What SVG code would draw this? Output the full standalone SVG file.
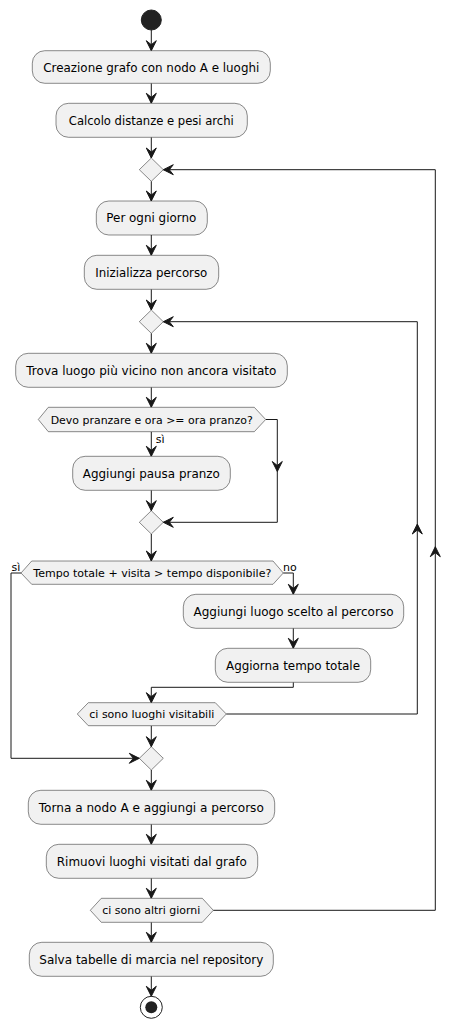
<svg xmlns="http://www.w3.org/2000/svg" width="460" height="1028" viewBox="0 0 460 1028">
<style>
.box{fill:#F1F1F1;stroke:#181818;stroke-width:0.5}
.t{font-family:"DejaVu Sans","Liberation Sans",sans-serif;font-size:12px;fill:#000;text-anchor:middle}
.s{font-family:"DejaVu Sans","Liberation Sans",sans-serif;font-size:11px;fill:#000}
.ln{fill:none;stroke:#181818;stroke-width:1}
.ah{fill:#181818;stroke:#181818;stroke-width:1}
</style>
<defs>
<polygon id="ad" points="-5,-10 0,0 5,-10 0,-6"/>
</defs>
<rect width="460" height="1028" fill="#FFFFFF"/>
<g id="connectors">
<path class="ln" d="M151.3,30 V50.7 M151.3,83.3 V103.3 M151.3,137.3 V158 M151.3,181.3 V201 M151.3,235 V255.3 M151.3,289.3 V310 M151.3,333.3 V353.3 M151.3,387.3 V407.3 M151.3,431.7 V456.3 M151.3,490.3 V510.7 M151.3,534 V561 M151.3,725.7 V746.7 M151.3,770 V790.3 M151.3,824.3 V844.3 M151.3,878.3 V898.3 M151.3,922.3 V942.3 M151.3,976.3 V996.3"/>
<path class="ln" d="M265.7,419.5 H277.3 V522.3 H163.3"/>
<path class="ln" d="M21,573 H11 V758.3 H139.3"/>
<path class="ln" d="M283.3,573 H293.3 V594.3 M293.3,628.3 V648.3 M293.3,682.3 V687.3 H151.3 V702.7"/>
<path class="ln" d="M226.3,714 H417.3 V321.7 H163.3"/>
<path class="ln" d="M213.3,910.3 H435.3 V169.7 H163.3"/>
<g class="ah">
<use href="#ad" transform="translate(151.3,50.7)"/>
<use href="#ad" transform="translate(151.3,103.3)"/>
<use href="#ad" transform="translate(151.3,158)"/>
<use href="#ad" transform="translate(151.3,201)"/>
<use href="#ad" transform="translate(151.3,255.3)"/>
<use href="#ad" transform="translate(151.3,310)"/>
<use href="#ad" transform="translate(151.3,353.3)"/>
<use href="#ad" transform="translate(151.3,407.3)"/>
<use href="#ad" transform="translate(151.3,456.3)"/>
<use href="#ad" transform="translate(151.3,510.7)"/>
<use href="#ad" transform="translate(151.3,561)"/>
<use href="#ad" transform="translate(151.3,746.7)"/>
<use href="#ad" transform="translate(151.3,790.3)"/>
<use href="#ad" transform="translate(151.3,844.3)"/>
<use href="#ad" transform="translate(151.3,898.3)"/>
<use href="#ad" transform="translate(151.3,942.3)"/>
<use href="#ad" transform="translate(151.3,996.3)"/>
<use href="#ad" transform="translate(277.3,471.5)"/>
<use href="#ad" transform="translate(163.3,522.3) rotate(90)"/>
<use href="#ad" transform="translate(139.3,758.3) rotate(-90)"/>
<use href="#ad" transform="translate(293.3,594.3)"/>
<use href="#ad" transform="translate(293.3,648.3)"/>
<use href="#ad" transform="translate(151.3,702.7)"/>
<use href="#ad" transform="translate(417.3,524) rotate(180)"/>
<use href="#ad" transform="translate(163.3,321.7) rotate(90)"/>
<use href="#ad" transform="translate(435.3,546.7) rotate(180)"/>
<use href="#ad" transform="translate(163.3,169.7) rotate(90)"/>
</g>
<text class="s" x="155.7" y="443">sì</text>
<text class="s" x="11.5" y="571">sì</text>
<text class="s" x="283" y="571">no</text>
</g>
<g id="start"><circle cx="151.3" cy="20" r="10" fill="#222222" stroke="#222222" stroke-width="1"/></g>
<g id="n1"><rect class="box" x="32.3" y="50.7" width="238" height="32.6" rx="12.5"/><text class="t" x="151.3" y="71.5" textLength="216" lengthAdjust="spacingAndGlyphs">Creazione grafo con nodo A e luoghi</text></g>
<g id="n2"><rect class="box" x="56" y="103.3" width="191.3" height="34" rx="12.5"/><text class="t" x="151.3" y="124.5" textLength="165" lengthAdjust="spacingAndGlyphs">Calcolo distanze e pesi archi</text></g>
<g id="m1"><polygon class="box" points="151.3,158 163.3,169.7 151.3,181.3 139.3,169.7"/></g>
<g id="n3"><rect class="box" x="96.3" y="201" width="111" height="34" rx="12.5"/><text class="t" x="151.3" y="222.2" textLength="90" lengthAdjust="spacingAndGlyphs">Per ogni giorno</text></g>
<g id="n4"><rect class="box" x="84.3" y="255.3" width="134.4" height="34" rx="12.5"/><text class="t" x="151.3" y="276.5" textLength="112" lengthAdjust="spacingAndGlyphs">Inizializza percorso</text></g>
<g id="m2"><polygon class="box" points="151.3,310 163.3,321.7 151.3,333.3 139.3,321.7"/></g>
<g id="n5"><rect class="box" x="15.7" y="353.3" width="271.6" height="34" rx="12.5"/><text class="t" x="151.3" y="374.5" textLength="250" lengthAdjust="spacingAndGlyphs">Trova luogo più vicino non ancora visitato</text></g>
<g id="d1"><polygon class="box" points="48.3,407.3 254.3,407.3 265.7,419.5 254.3,431.7 48.3,431.7 38.3,419.5"/><text class="s" x="50.7" y="423.5" textLength="202" lengthAdjust="spacingAndGlyphs">Devo pranzare e ora &gt;= ora pranzo?</text></g>
<g id="n6"><rect class="box" x="72.7" y="456.3" width="157.6" height="34" rx="12.5"/><text class="t" x="151.3" y="477.5" textLength="137" lengthAdjust="spacingAndGlyphs">Aggiungi pausa pranzo</text></g>
<g id="m3"><polygon class="box" points="151.3,510.7 163.3,522.3 151.3,534 139.3,522.3"/></g>
<g id="d2"><polygon class="box" points="31.7,561 273,561 283.3,573 273,584.3 31.7,584.3 21,573"/><text class="s" x="33.3" y="577" textLength="238" lengthAdjust="spacingAndGlyphs">Tempo totale + visita &gt; tempo disponibile?</text></g>
<g id="n7"><rect class="box" x="183.3" y="594.3" width="220.4" height="34" rx="12.5"/><text class="t" x="293.5" y="615.5" textLength="200" lengthAdjust="spacingAndGlyphs">Aggiungi luogo scelto al percorso</text></g>
<g id="n8"><rect class="box" x="215.3" y="648.3" width="155.4" height="34" rx="12.5"/><text class="t" x="293" y="669.5" textLength="134" lengthAdjust="spacingAndGlyphs">Aggiorna tempo totale</text></g>
<g id="d3"><polygon class="box" points="88.3,702.7 215.3,702.7 226.3,714 215.3,725.7 88.3,725.7 77.3,714"/><text class="s" x="89.3" y="718" textLength="125" lengthAdjust="spacingAndGlyphs">ci sono luoghi visitabili</text></g>
<g id="m4"><polygon class="box" points="151.3,746.7 163.3,758.3 151.3,770 139.3,758.3"/></g>
<g id="n9"><rect class="box" x="28.3" y="790.3" width="246.4" height="34" rx="12.5"/><text class="t" x="151.3" y="811.5" textLength="225" lengthAdjust="spacingAndGlyphs">Torna a nodo A e aggiungi a percorso</text></g>
<g id="n10"><rect class="box" x="46.3" y="844.3" width="211.4" height="34" rx="12.5"/><text class="t" x="151.8" y="865.5" textLength="190" lengthAdjust="spacingAndGlyphs">Rimuovi luoghi visitati dal grafo</text></g>
<g id="d4"><polygon class="box" points="101.3,898.3 202.3,898.3 213.3,910.3 202.3,922.3 101.3,922.3 90.3,910.3"/><text class="s" x="102.3" y="914.3" textLength="98" lengthAdjust="spacingAndGlyphs">ci sono altri giorni</text></g>
<g id="n11"><rect class="box" x="29.3" y="942.3" width="244" height="34" rx="12.5"/><text class="t" x="151.3" y="963.5" textLength="224" lengthAdjust="spacingAndGlyphs">Salva tabelle di marcia nel repository</text></g>
<g id="end"><circle cx="151.3" cy="1007.3" r="11" fill="none" stroke="#222222" stroke-width="1"/><circle cx="151.3" cy="1007.3" r="6" fill="#222222"/></g>
</svg>
